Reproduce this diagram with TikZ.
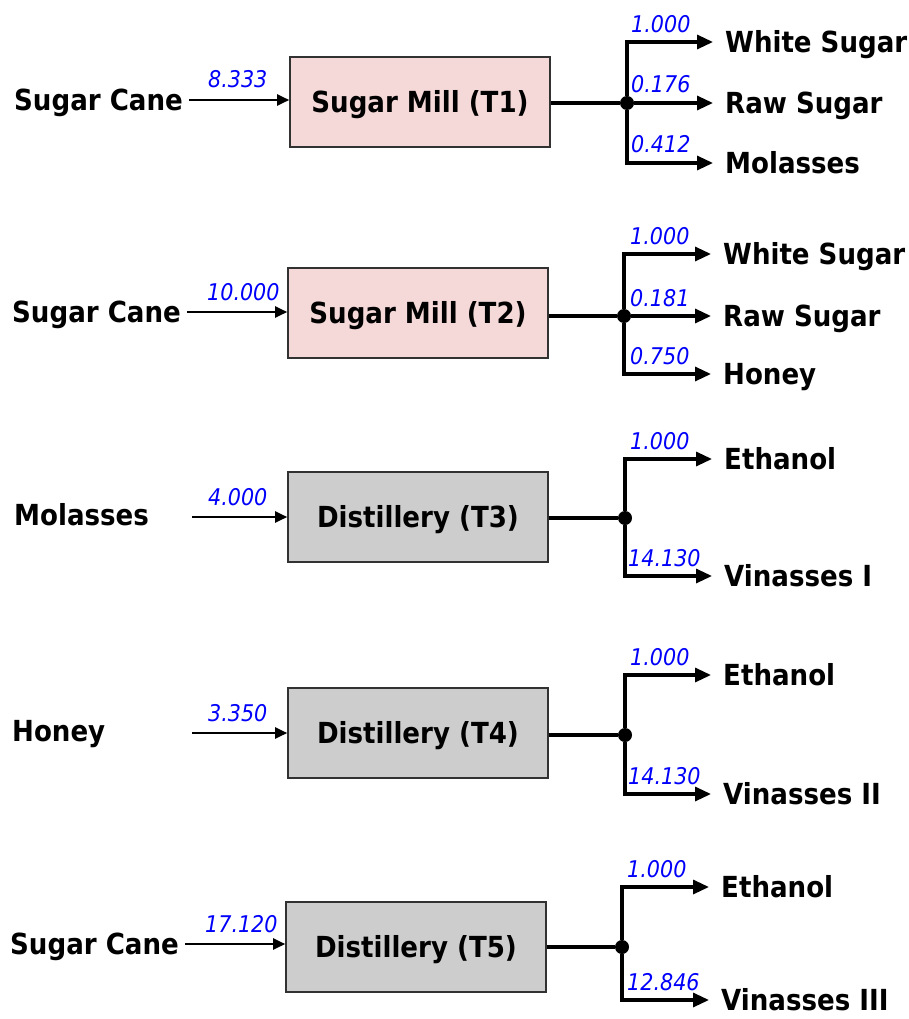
\documentclass[tikz,border=0pt]{standalone}
\usepackage{fontspec}
\setmainfont{DejaVu Sans Condensed}[BoldFont={DejaVu Sans Condensed Bold}, ItalicFont={DejaVu Sans Condensed Oblique}]
\usetikzlibrary{arrows.meta}
\definecolor{millfill}{RGB}{245,216,216}
\definecolor{distfill}{RGB}{205,205,205}
\definecolor{boxline}{RGB}{50,50,50}
\definecolor{flowblue}{RGB}{0,0,250}
\tikzset{
  bigtext/.style={font=\fontsize{29}{34}\selectfont\bfseries, text height=27.6pt, text depth=6.5pt},
  proc/.style={draw=boxline, line width=1.6pt, minimum width=260pt, minimum height=90pt,
    inner sep=0pt, bigtext},
  mill/.style={proc, fill=millfill},
  dist/.style={proc, fill=distfill},
  src/.style={anchor=west, inner sep=4pt, bigtext},
  prod/.style={anchor=west, inner sep=4pt, bigtext},
  lab/.style={anchor=base west, inner sep=0pt, text=flowblue, font=\fontsize{23}{27}\selectfont\itshape},
  joint/.style={circle, fill=black, minimum size=14pt, inner sep=0pt},
  inarr/.style={line width=2.2pt, -{Triangle[length=12pt,width=11pt]}, shorten <=2pt},
  outarr/.style={line width=3.2pt, -{Triangle[length=16pt,width=14pt]}, shorten >=8pt},
  plain/.style={line width=3.2pt}
}
\begin{document}
\begin{tikzpicture}[x=1pt,y=-1pt]
\useasboundingbox (0,0) rectangle (909,1019);

% ---------- Row 1 ----------
\node[mill] (T1) at (420,102) {Sugar Mill (T1)};
\node[src] (in1) at (10,100) {Sugar Cane};
\draw[inarr] (in1.east) -- (in1.east -| T1.west);
\node[lab] (l1) at (208,88) {8.333};
\node[joint] (d1) at (627,103) {};
\draw[plain] (T1.east |- d1) -- (d1);
\node[prod] (o11) at (721,42) {White Sugar};
\node[prod] (o12) at (721,103) {Raw Sugar};
\node[prod] (o13) at (721,163) {Molasses};
\draw[outarr] (d1) |- (o11.west);
\draw[outarr] (d1) -- (o12.west);
\draw[outarr] (d1) |- (o13.west);
\node[lab] (l11) at (631,33) {1.000};
\node[lab] (l12) at (631,93) {0.176};
\node[lab] (l13) at (631,153) {0.412};

% ---------- Row 2 ----------
\node[mill] (T2) at (418,313) {Sugar Mill (T2)};
\node[src] (in2) at (8,312) {Sugar Cane};
\draw[inarr] (in2.east) -- (in2.east -| T2.west);
\node[lab] (l2) at (207,300) {10.000};
\node[joint] (d2) at (624,316) {};
\draw[plain] (T2.east |- d2) -- (d2);
\node[prod] (o21) at (719,254) {White Sugar};
\node[prod] (o22) at (719,316) {Raw Sugar};
\node[prod] (o23) at (719,374) {Honey};
\draw[outarr] (d2) |- (o21.west);
\draw[outarr] (d2) -- (o22.west);
\draw[outarr] (d2) |- (o23.west);
\node[lab] (l21) at (630,244) {1.000};
\node[lab] (l22) at (630,306) {0.181};
\node[lab] (l23) at (630,364) {0.750};

% ---------- Row 3 ----------
\node[dist] (T3) at (418,517) {Distillery (T3)};
\node[src] (in3) at (10,515) {Molasses};
\coordinate (s3) at (190,517);
\draw[inarr] (s3) -- (s3 -| T3.west);
\node[lab] (l3) at (208,505) {4.000};
\node[joint] (d3) at (625,518) {};
\draw[plain] (T3.east |- d3) -- (d3);
\node[prod] (o31) at (720,459) {Ethanol};
\node[prod] (o32) at (720,576) {Vinasses I};
\draw[outarr] (d3) |- (o31.west);
\draw[outarr] (d3) |- (o32.west);
\node[lab] (l31) at (630,449) {1.000};
\node[lab] (l32) at (628,566) {14.130};

% ---------- Row 4 ----------
\node[dist] (T4) at (418,733) {Distillery (T4)};
\node[src] (in4) at (8,731) {Honey};
\coordinate (s4) at (190,733);
\draw[inarr] (s4) -- (s4 -| T4.west);
\node[lab] (l4) at (208,721) {3.350};
\node[joint] (d4) at (625,735) {};
\draw[plain] (T4.east |- d4) -- (d4);
\node[prod] (o41) at (719,675) {Ethanol};
\node[prod] (o42) at (719,794) {Vinasses II};
\draw[outarr] (d4) |- (o41.west);
\draw[outarr] (d4) |- (o42.west);
\node[lab] (l41) at (630,665) {1.000};
\node[lab] (l42) at (628,784) {14.130};

% ---------- Row 5 ----------
\node[dist] (T5) at (416,947) {Distillery (T5)};
\node[src] (in5) at (6,944) {Sugar Cane};
\draw[inarr] (in5.east) -- (in5.east -| T5.west);
\node[lab] (l5) at (205,932) {17.120};
\node[joint] (d5) at (622,947) {};
\draw[plain] (T5.east |- d5) -- (d5);
\node[prod] (o51) at (717,887) {Ethanol};
\node[prod] (o52) at (717,1000) {Vinasses III};
\draw[outarr] (d5) |- (o51.west);
\draw[outarr] (d5) |- (o52.west);
\node[lab] (l51) at (627,877) {1.000};
\node[lab] (l52) at (627,990) {12.846};
\end{tikzpicture}
\end{document}
